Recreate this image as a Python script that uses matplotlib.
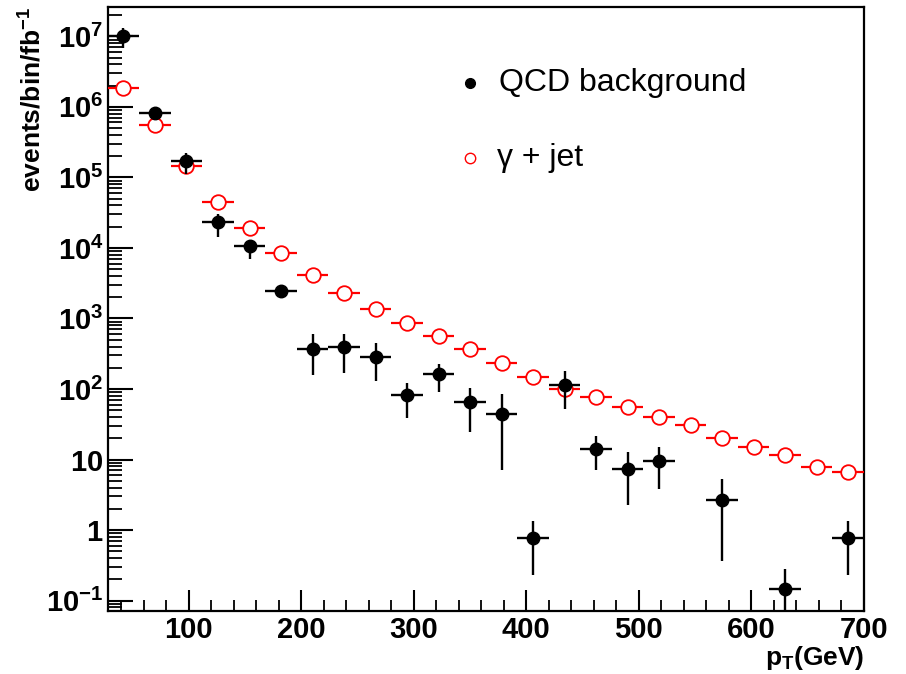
import numpy as np
import matplotlib
matplotlib.use("Agg")
import matplotlib.pyplot as plt
from matplotlib.ticker import FixedLocator, FixedFormatter, LogLocator, NullFormatter, MultipleLocator

plt.rcParams['font.family'] = ['Liberation Sans', 'DejaVu Sans']
plt.rcParams['mathtext.fontset'] = 'custom'
plt.rcParams['mathtext.rm'] = 'Liberation Sans'
plt.rcParams['mathtext.bf'] = 'Liberation Sans:bold'
plt.rcParams['mathtext.it'] = 'Liberation Sans:italic'

# bins: 28 GeV wide from 28 to 700
bin_edges = np.arange(28, 701, 28)
bin_centers = (bin_edges[:-1] + bin_edges[1:]) / 2

# gamma + jet
gj_vals = [1.82e6, 5.5e5, 1.46e5, 4.5e4, 1.89e4, 8.5e3, 4.1e3, 2.31e3, 1.36e3, 870,
           564, 365, 231, 147, 99, 78, 55, 39.7, 30.6, 20, 14.9, 11.6, 7.8, 6.6]

# QCD background (nan = empty bin)
qcd_vals = [1.0e7, 8.2e5, 1.7e5, 2.3e4, 1.07e4, 2.44e3, 369, 390, 287, 82,
            161, 66, 44, 0.78, 114, 14.1, 7.3, 9.5, np.nan, 2.68, np.nan, 0.146, np.nan, 0.78]
qcd_hi = [1.30e7, 9.5e5, 2.2e5, 3.0e4, 1.26e4, 2.7e3, 601, 601, 453, 120,
          224, 102, 84, 1.35, 181, 21.6, 12.9, 15.2, np.nan, 5.26, np.nan, 0.28, np.nan, 1.35]
qcd_lo = [6.8e6, 6.8e5, 1.1e5, 1.44e4, 6.9e3, 2.2e3, 158, 167, 130, 38.5,
          91.6, 24.4, 7.1, 0.23, 52, 7.1, 2.27, 3.84, np.nan, 0.37, np.nan, 0.05, np.nan, 0.23]

ytick_vals = [0.1, 1, 10, 1e2, 1e3, 1e4, 1e5, 1e6, 1e7]
ytick_labels = [r'$\mathbf{10^{-1}}$', r'$\mathbf{1}$', r'$\mathbf{10}$', r'$\mathbf{10^{2}}$',
                r'$\mathbf{10^{3}}$', r'$\mathbf{10^{4}}$', r'$\mathbf{10^{5}}$',
                r'$\mathbf{10^{6}}$', r'$\mathbf{10^{7}}$']
xtick_vals = [100, 200, 300, 400, 500, 600, 700]

fig = plt.figure(figsize=(9.06, 6.74), dpi=100)
ax = fig.add_axes([107.7/906, 1 - 610.7/674, (864 - 107.7)/906, (610.7 - 7)/674])

half = np.diff(bin_edges) / 2
gj = np.array(gj_vals)
ax.errorbar(bin_centers, gj, xerr=half, fmt='o', ms=10.5, mfc='white', mec='red',
            mew=1.3, ecolor='red', elinewidth=1.6, capsize=0, zorder=3)

q = np.array(qcd_vals)
qh = np.array(qcd_hi)
ql = np.array(qcd_lo)
m = ~np.isnan(q)
ax.errorbar(bin_centers[m], q[m], xerr=half[m], yerr=[q[m] - ql[m], qh[m] - q[m]],
            fmt='o', ms=9, mfc='black', mec='black', ecolor='black', elinewidth=1.7,
            capsize=0, zorder=4)

ax.set_yscale('log')
ax.set_xlim(28, 700)
ax.set_ylim(0.072, 2.6e7)

ax.yaxis.set_major_locator(FixedLocator(ytick_vals))
ax.yaxis.set_major_formatter(FixedFormatter(ytick_labels))
ax.yaxis.set_minor_locator(LogLocator(base=10, subs=np.arange(2, 10), numticks=30))
ax.yaxis.set_minor_formatter(NullFormatter())
ax.xaxis.set_major_locator(FixedLocator(xtick_vals))
ax.xaxis.set_minor_locator(MultipleLocator(20))
ax.set_xticklabels([str(v) for v in xtick_vals], fontweight='bold')

ax.tick_params(axis='y', which='major', direction='in', length=18, width=1.5, labelsize=21, pad=3)
ax.tick_params(axis='y', which='minor', direction='in', length=10, width=1.3)
ax.tick_params(axis='x', which='major', direction='in', length=15, width=1.5, labelsize=21, pad=4)
ax.tick_params(axis='x', which='minor', direction='in', length=8, width=1.3)
ax.tick_params(top=False, right=False, which='both')
for s in ax.spines.values():
    s.set_linewidth(1.6)

ax.set_ylabel(r'$\mathbf{events/bin/fb^{-1}}$', fontsize=19, loc='top', labelpad=0)
ax.set_xlabel(r'$\mathbf{p_{T}(GeV)}$', fontsize=19, loc='right', labelpad=0)

# legend drawn in axes coordinates
ax.plot([0.479], [0.874], transform=ax.transAxes, ls='none', marker='o', ms=7,
        mfc='black', mec='black', clip_on=False)
ax.text(0.517, 0.874, 'QCD background', transform=ax.transAxes, fontsize=23,
        va='center', ha='left')
ax.plot([0.479], [0.750], transform=ax.transAxes, ls='none', marker='o', ms=7.5,
        mfc='white', mec='red', mew=1.0, clip_on=False)
ax.text(0.515, 0.750, 'γ + jet', transform=ax.transAxes, fontsize=23,
        va='center', ha='left')

fig.savefig('out.png', dpi=100)
